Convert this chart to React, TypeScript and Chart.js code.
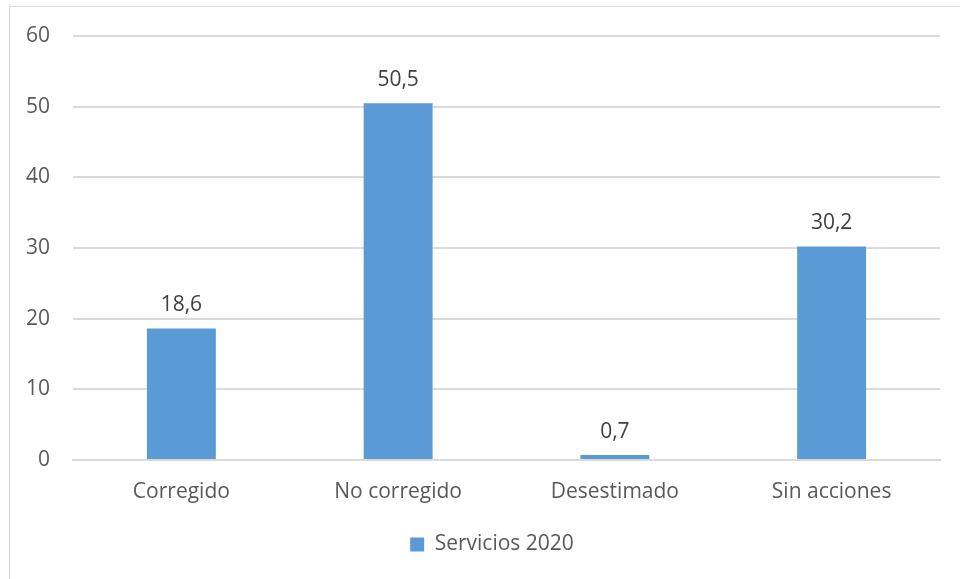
import React, { useEffect, useRef } from "react";
import { Chart, registerables } from "chart.js";

Chart.register(...registerables);

const categories = ["Corregido", "No corregido", "Desestimado", "Sin acciones"];
const seriesName = "Servicios 2020";
const seriesValues = [18.6, 50.5, 0.7, 30.2];
const yTicks = [0, 10, 20, 30, 40, 50, 60];

const FONT = "'Open Sans', sans-serif";
const TEXT = "#595959";
const GRID = "#dadada";
const BAR = "#5b9bd5";

const dataLabelPlugin = {
  id: "dataLabels",
  afterDatasetsDraw(chart: any) {
    const ctx = chart.ctx;
    ctx.save();
    ctx.font = `21px ${FONT}`;
    ctx.fillStyle = "#404040";
    ctx.textAlign = "center";
    ctx.textBaseline = "alphabetic";
    const meta = chart.getDatasetMeta(0);
    meta.data.forEach((el: any, i: number) => {
      const v = chart.data.datasets[0].data[i] as number;
      ctx.fillText(v.toFixed(1).replace(".", ","), el.x, el.y - 17.5);
    });
    ctx.restore();
  },
};

const legendShift = {
  id: "legendShift",
  afterLayout(chart: any) {
    if (chart.legend) {
      chart.legend.left += 22;
      chart.legend.right += 22;
    }
  },
};

export default function App() {
  const ref = useRef<HTMLCanvasElement | null>(null);
  useEffect(() => {
    if (!ref.current) return;
    const chart = new Chart(ref.current, {
      type: "bar",
      data: {
        labels: categories,
        datasets: [
          {
            label: seriesName,
            data: seriesValues,
            backgroundColor: BAR,
            barPercentage: 0.318,
            categoryPercentage: 1,
          },
        ],
      },
      options: {
        responsive: false,
        animation: false,
        devicePixelRatio: 1,
        layout: { padding: { left: 0, right: 20, top: 36, bottom: 14 } },
        plugins: {
          legend: {
            position: "bottom",
            labels: {
              boxWidth: 14,
              boxHeight: 14,
              padding: 10,
              color: TEXT,
              font: { family: FONT, size: 21 },
            },
          },
          tooltip: { enabled: false },
        },
        scales: {
          x: {
            grid: { display: false, drawTicks: false },
            border: { display: true, color: GRID, width: 2 },
            ticks: { color: TEXT, font: { family: FONT, size: 21 }, padding: 19 },
            afterFit(scale: any) {
              scale.height = 64;
            },
          },
          y: {
            min: 0,
            max: 60,
            afterBuildTicks(scale: any) {
              scale.ticks = yTicks.map((v) => ({ value: v }));
            },
            grid: { color: GRID, drawTicks: false, lineWidth: 2 },
            border: { display: false },
            ticks: { color: TEXT, font: { family: FONT, size: 21 }, padding: 23 },
            afterFit(scale: any) {
              scale.width = 73;
            },
          },
        },
      },
      plugins: [dataLabelPlugin, legendShift],
    });
    return () => chart.destroy();
  }, []);

  return (
    <div style={{ position: "fixed", left: 0, top: 0, width: 960, height: 579, overflow: "hidden", background: "#fff" }}>
      <div
        style={{
          position: "absolute",
          left: 9,
          top: 6,
          width: 1000,
          height: 700,
          border: `1px solid ${GRID}`,
          boxSizing: "border-box",
        }}
      />
      <canvas ref={ref} width={960} height={579} style={{ position: "absolute", left: 0, top: 0, display: "block" }} />
    </div>
  );
}
